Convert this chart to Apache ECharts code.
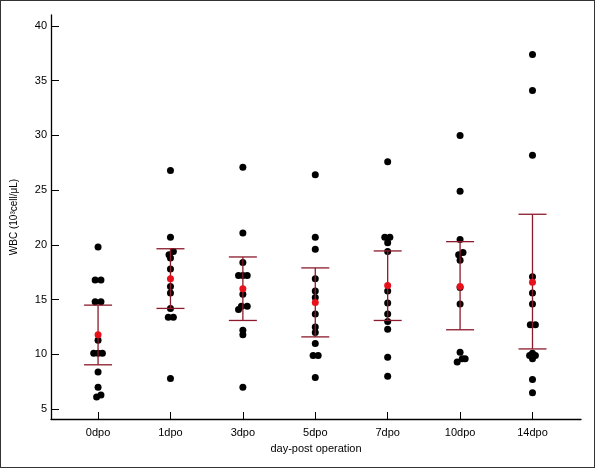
<!DOCTYPE html>
<html>
<head>
<meta charset="utf-8">
<script src="https://cdn.jsdelivr.net/npm/echarts@6/dist/echarts.min.js"></script>
<style>
html,body{margin:0;padding:0;background:#fff;}
#chart{width:593px;height:466px;border:1px solid #333;}
</style>
</head>
<body>
<div id="chart"></div>
<script>
var categories = ['0dpo', '1dpo', '3dpo', '5dpo', '7dpo', '10dpo', '14dpo'];
// individual values per group: [value, jitter]
var points = [
    [[19.8,0],[16.8,-0.04],[16.8,0.04],[14.8,-0.04],[14.8,0.04],[11.3,0],[10.1,-0.06],[10.1,0],[10.1,0.06],[8.4,0],[7.0,0],[6.3,0.04],[6.1,-0.02]],
    [[26.8,0],[20.7,0],[19.4,0.04],[19.1,-0.02],[18.8,0],[17.8,0],[16.2,0],[15.6,0],[14.2,0],[13.4,-0.03],[13.4,0.04],[7.8,0]],
    [[27.1,0],[21.1,0],[18.4,0],[17.2,-0.06],[17.2,0],[17.2,0.06],[15.5,0],[14.4,-0.02],[14.4,0.06],[14.1,-0.06],[12.2,0],[11.8,0],[7.0,0]],
    [[26.4,0],[20.7,0],[19.6,0],[16.9,0],[15.8,0],[15.2,0],[13.7,0],[12.5,0],[12.0,0],[11.0,0],[9.9,-0.03],[9.9,0.04],[7.9,0]],
    [[27.6,0],[20.7,-0.04],[20.7,0.03],[20.2,0],[19.4,0],[15.8,0],[14.7,0],[13.7,0],[13.0,0],[12.3,0],[9.75,0],[8.0,0]],
    [[30.0,0],[24.9,0],[20.5,0],[19.3,0.04],[19.1,-0.02],[18.6,0],[16.1,0],[14.6,0],[10.2,0],[9.6,0.03],[9.6,0.07],[9.3,-0.04]],
    [[37.4,0],[34.1,0],[28.2,0],[17.1,0],[15.6,0],[14.6,0],[12.7,-0.03],[12.7,0.04],[10.1,0],[9.9,-0.04],[9.9,0.04],[9.6,0],[7.7,0],[6.5,0]]
];
var means = [11.8, 16.9, 16.0, 14.75, 16.3, 16.2, 16.6];
var upper = [14.5, 19.65, 18.9, 17.9, 19.45, 20.3, 22.8];
var lower = [9.05, 14.2, 13.1, 11.6, 13.1, 12.25, 10.5];
var yTicks = [5, 10, 15, 20, 25, 30, 35, 40];

var dotData = [];
points.forEach(function (g, i) {
    g.forEach(function (p) { dotData.push([i + p[1], p[0]]); });
});
var meanData = means.map(function (m, i) { return [i, m]; });
var errData = means.map(function (m, i) { return [i, lower[i], upper[i]]; });
var idx = categories.map(function (c, i) { return i; });

var chart = echarts.init(document.getElementById('chart'));
chart.setOption({
    animation: false,
    grid: {left: 46, right: 13, top: 14, bottom: 48},
    xAxis: {
        type: 'value', min: -0.65, max: 6.67,
        name: 'day-post operation', nameLocation: 'middle', nameGap: 24,
        nameTextStyle: {fontFamily: 'Liberation Sans', fontSize: 11, color: '#000'},
        splitLine: {show: false},
        axisLine: {show: true, onZero: false, lineStyle: {color: '#000', width: 1.3}},
        axisTick: {show: true, inside: true, length: 7, customValues: idx, lineStyle: {color: '#000'}},
        axisLabel: {customValues: idx, color: '#000', fontFamily: 'Liberation Sans', fontSize: 11, margin: 8,
            formatter: function (v) { return categories[Math.round(v)]; }}
    },
    yAxis: {
        type: 'value', min: 4.1, max: 41,
        name: 'WBC (10\u00b3cell/\u03bcL)', nameLocation: 'middle', nameGap: 32, nameRotate: 90,
        nameTextStyle: {fontFamily: 'Liberation Sans', fontSize: 10, color: '#000'},
        splitLine: {show: false},
        axisLine: {show: true, onZero: false, lineStyle: {color: '#000', width: 1.3}},
        axisTick: {show: true, inside: true, length: 8, customValues: yTicks, lineStyle: {color: '#000'}},
        axisLabel: {customValues: yTicks, color: '#000', fontFamily: 'Liberation Sans', fontSize: 11, margin: 4}
    },
    series: [{
        type: 'scatter', symbolSize: 7, itemStyle: {color: '#000', opacity: 1}, data: dotData, z: 2
    }, {
        type: 'custom', z: 3,
        renderItem: function (params, api) {
            var top = api.coord([api.value(0), api.value(2)]);
            var bot = api.coord([api.value(0), api.value(1)]);
            var hw = 14;
            var st = {stroke: '#8b1a2a', lineWidth: 1.3};
            return {type: 'group', children: [
                {type: 'line', shape: {x1: top[0], y1: top[1], x2: bot[0], y2: bot[1]}, style: st},
                {type: 'line', shape: {x1: top[0] - hw, y1: top[1], x2: top[0] + hw, y2: top[1]}, style: st},
                {type: 'line', shape: {x1: bot[0] - hw, y1: bot[1], x2: bot[0] + hw, y2: bot[1]}, style: st}
            ]};
        },
        data: errData
    }, {
        type: 'scatter', symbolSize: 7, itemStyle: {color: '#e8101a', opacity: 1}, data: meanData, z: 4
    }]
});
</script>
</body>
</html>
